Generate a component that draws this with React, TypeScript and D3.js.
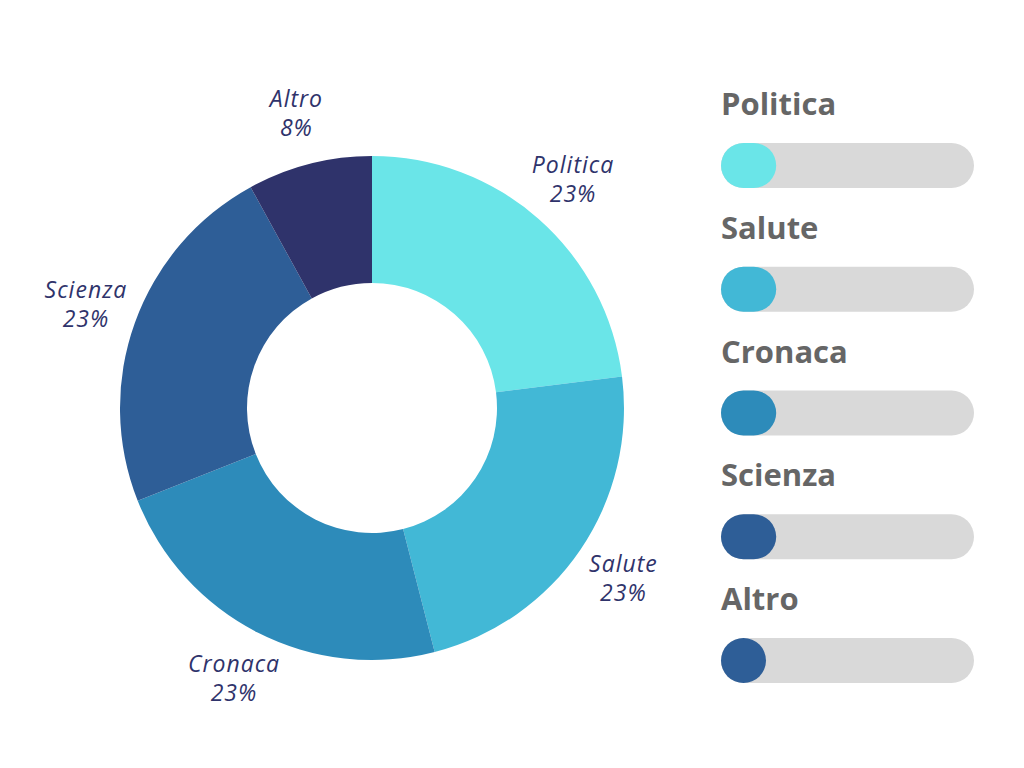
import React from "react";
import * as d3 from "d3";

const categories = ["Politica", "Salute", "Cronaca", "Scienza", "Altro"];
const values = [23, 23, 23, 23, 8];
const sliceColors = ["#6AE5E8", "#42B8D6", "#2D8BBA", "#2E5E97", "#2F336B"];
const legendColors = ["#6AE5E8", "#42B8D6", "#2D8BBA", "#2E5E97", "#2E5E97"];

export default function App() {
  const W = 1024, H = 768;
  const cx = 372, cy = 408;
  const outerR = 252, innerR = 125, labelR = 304;
  const pie = d3.pie<number>().sort(null).value((d) => d);
  const arcs = pie(values);
  const arc = d3.arc<d3.PieArcDatum<number>>().innerRadius(innerR).outerRadius(outerR);

  const legendX = 721, trackW = 253, barH = 45;
  const rowY = d3.scaleLinear().domain([0, 4]).range([143, 638]);
  const fillX = d3.scaleLinear().domain([0, 100]).range([0, 240]);

  return (
    <svg width={W} height={H} style={{ position: "absolute", left: 0, top: 0, background: "#fff" }}>
      <g transform={`translate(${cx},${cy})`}>
        {arcs.map((a, i) => (
          <path key={i} d={arc(a) || ""} fill={sliceColors[i]} />
        ))}
        {arcs.map((a, i) => {
          const m = (a.startAngle + a.endAngle) / 2;
          const x = labelR * Math.sin(m);
          const y = -labelR * Math.cos(m);
          return (
            <text key={i} x={x} y={y} textAnchor="middle" fill="#2F336B"
              fontFamily="'Open Sans', sans-serif" fontStyle="italic" fontSize={23}
              letterSpacing={1}>
              <tspan x={x} dy={-7}>{categories[i]}</tspan>
              <tspan x={x} dy={29}>{`${values[i]}%`}</tspan>
            </text>
          );
        })}
      </g>
      {categories.map((c, i) => {
        const y = rowY(i);
        const fw = Math.max(barH, fillX(values[i]));
        return (
          <g key={c}>
            <text x={legendX} y={y - 28} fill="#666666" fontFamily="'Open Sans', sans-serif"
              fontWeight={700} fontSize={31}>{c}</text>
            <rect x={legendX} y={y} width={trackW} height={barH} rx={barH / 2} fill="#D9D9D9" />
            <rect x={legendX} y={y} width={fw} height={barH} rx={barH / 2} fill={legendColors[i]} />
          </g>
        );
      })}
    </svg>
  );
}
